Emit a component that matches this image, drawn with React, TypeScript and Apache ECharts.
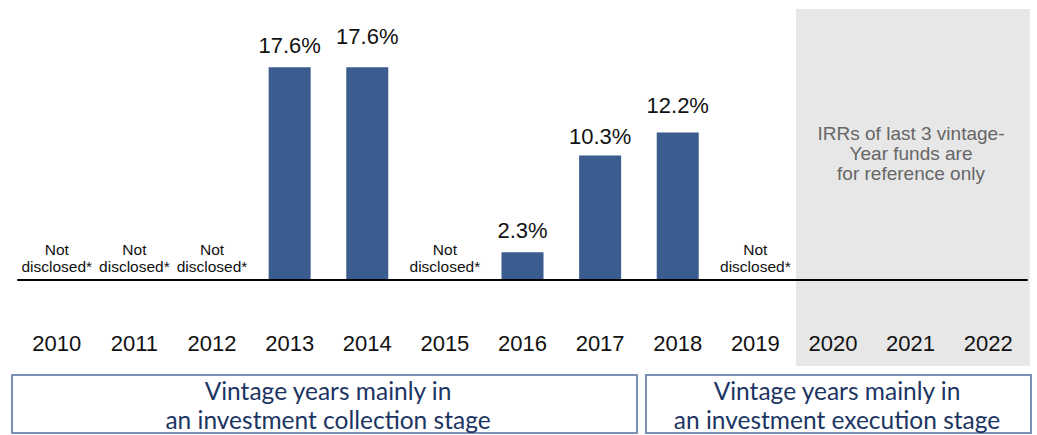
import React, { useEffect, useRef } from "react";
import * as echarts from "echarts";

const years = ["2010", "2011", "2012", "2013", "2014", "2015", "2016", "2017", "2018", "2019", "2020", "2021", "2022"];
const irr: (number | null)[] = [null, null, null, 17.6, 17.6, null, 2.3, 10.3, 12.2, null, null, null, null];
const notDisclosed = ["2010", "2011", "2012", "2015", "2019"];
const notDisclosedText = "Not\ndisclosed*";
const referenceNote = "IRRs of last 3 vintage-\nYear funds are\nfor reference only";
const stageCollection = "Vintage years mainly in\nan investment collection stage";
const stageExecution = "Vintage years mainly in\nan investment execution stage";

// label gap (style only) per year
const labelGap: Record<string, number> = { "2013": 11, "2014": 20, "2016": 11, "2017": 8, "2018": 16 };

const BAR = "#3a5c8f";
const FONT = "'Liberation Sans', Arial, sans-serif";

export default function App() {
  const ref = useRef<HTMLDivElement>(null);
  useEffect(() => {
    if (!ref.current) return;
    const chart = echarts.init(ref.current, undefined, { renderer: "svg" });
    const data = years.map((y, i) => {
      if (notDisclosed.includes(y)) {
        return {
          value: 0,
          label: {
            show: true,
            position: "top",
            distance: 5,
            formatter: notDisclosedText,
            fontSize: 15.5,
            lineHeight: 17,
            color: "#111",
            fontFamily: FONT,
          },
        };
      }
      const v = irr[i];
      if (v == null) return { value: null };
      return {
        value: v,
        label: {
          show: true,
          position: "top",
          distance: labelGap[y] ?? 11,
          formatter: v.toFixed(1) + "%",
          fontSize: 22,
          color: "#111",
          fontFamily: FONT,
        },
      };
    });

    const boxStyle = { fill: "#fff", stroke: "#7b90b4", lineWidth: 2 };
    const boxText = {
      fontSize: 24.5,
      lineHeight: 29,
      fill: "#1c3563",
      fontFamily: "Lato, 'Open Sans', sans-serif",
      align: "center",
      verticalAlign: "middle",
    };

    chart.setOption({
      animation: false,
      backgroundColor: "#fff",
      grid: { left: 18, right: 10, top: 14, bottom: 155, containLabel: false },
      xAxis: {
        type: "category",
        data: years,
        axisLine: { show: true, lineStyle: { color: "#000", width: 2 } },
        axisTick: { show: false },
        axisLabel: { margin: 52, fontSize: 22, color: "#111", fontFamily: FONT },
        z: 5,
      },
      yAxis: {
        type: "value",
        min: 0,
        max: 22,
        show: false,
        splitLine: { show: false },
      },
      graphic: [
        {
          type: "rect",
          z: -10,
          shape: { x: 796, y: 9, width: 234, height: 357 },
          style: { fill: "#e7e7e7" },
        },
        {
          type: "text",
          z: 1,
          x: 911,
          y: 153,
          style: {
            text: referenceNote,
            fontSize: 19,
            lineHeight: 20,
            fill: "#666",
            fontFamily: FONT,
            align: "center",
            verticalAlign: "middle",
          },
        },
        {
          type: "rect",
          shape: { x: 12, y: 375, width: 625, height: 58 },
          style: boxStyle,
        },
        {
          type: "text",
          x: 328,
          y: 405,
          style: { ...boxText, text: stageCollection },
        },
        {
          type: "rect",
          shape: { x: 646, y: 375, width: 385, height: 58 },
          style: boxStyle,
        },
        {
          type: "text",
          x: 837,
          y: 405,
          style: { ...boxText, text: stageExecution },
        },
      ],
      series: [
        {
          type: "bar",
          data,
          barWidth: 42,
          itemStyle: { color: BAR },
          z: 3,
        },
      ],
    });
    return () => chart.dispose();
  }, []);
  return (
    <div
      ref={ref}
      style={{ position: "absolute", left: 0, top: 0, width: 1037, height: 435 }}
    />
  );
}
